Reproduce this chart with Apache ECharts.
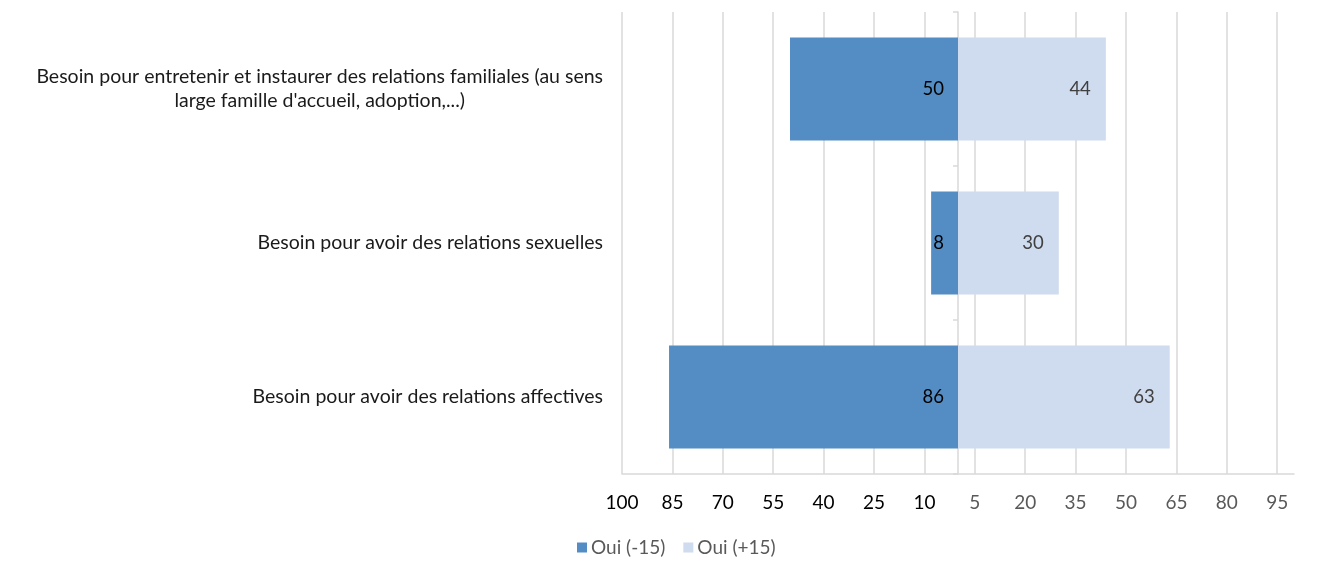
<!DOCTYPE html>
<html>
<head>
<meta charset="utf-8">
<script src="https://cdn.jsdelivr.net/npm/echarts@6/dist/echarts.min.js"></script>
<style>
  html, body { margin: 0; padding: 0; background: #ffffff; }
  #chart { width: 1320px; height: 563px; }
</style>
</head>
<body>
<div id="chart"></div>
<script>
// Categories, listed bottom to top as the category axis draws them
const categories = [
  'Besoin pour avoir des relations affectives',
  'Besoin pour avoir des relations sexuelles',
  "Besoin pour entretenir et instaurer des relations familiales (au sens\nlarge famille d'accueil, adoption,...)"
];
const seriesNames = ['Oui (-15)', 'Oui (+15)'];
// Left side (drawn as negative values) and right side
const ouiMoins15 = [86, 8, 50];
const ouiPlus15 = [63, 30, 44];

const FONT = 'Lato, "Liberation Sans", sans-serif';
const DARK = '#548DC4';
const LIGHT = '#CFDBEE';
const GRID = '#D9D9D9';
const FS = 19.5;

const chart = echarts.init(document.getElementById('chart'), null, { renderer: 'canvas' });

chart.setOption({
  animation: false,
  textStyle: { fontFamily: FONT },
  grid: { left: 622, right: 26, top: 12, bottom: 89, containLabel: false },
  legend: {
    data: seriesNames,
    left: 572,
    bottom: 1,
    icon: 'rect',
    itemWidth: 10,
    itemHeight: 10,
    itemGap: 18,
    textStyle: { fontFamily: FONT, fontSize: 19, color: '#595959', padding: [0, 0, 0, -1] }
  },
  xAxis: {
    type: 'value',
    min: -100,
    max: 100,
    interval: 15,
    axisLine: { show: true, onZero: false, lineStyle: { color: GRID, width: 1.5 } },
    axisTick: { show: false },
    splitLine: { show: true, showMaxLine: false, lineStyle: { color: GRID, width: 1.5 } },
    axisLabel: {
      margin: 19,
      fontFamily: FONT,
      fontSize: 19,
      color: function (v) { return v < 0 ? '#000000' : '#595959'; },
      formatter: function (v) { return v >= 100 ? '' : String(Math.abs(v)); },
      showMaxLabel: false
    }
  },
  yAxis: [
    {
      type: 'category',
      data: categories,
      position: 'left',
      axisLine: { show: false },
      axisTick: { show: false },
      axisLabel: {
        margin: 19,
        fontFamily: FONT,
        fontSize: FS,
        color: '#1a1a1a',
        lineHeight: 24,
        formatter: function (v) {
          return v.split('\n').map(function (l) { return '{c|' + l + '}'; }).join('\n');
        },
        rich: { c: { align: 'center', fontFamily: FONT, fontSize: FS, color: '#1a1a1a', lineHeight: 24 } }
      }
    },
    {
      // center divider with tick marks between the bands
      type: 'category',
      data: categories,
      position: 'left',
      offset: -336,
      axisLine: { show: true, onZero: false, lineStyle: { color: GRID, width: 1.5 } },
      axisTick: { show: true, length: 5, lineStyle: { color: GRID, width: 1.5 } },
      axisLabel: { show: false }
    }
  ],
  series: [
    {
      name: seriesNames[0],
      type: 'bar',
      stack: 'total',
      yAxisIndex: 0,
      barWidth: '67%',
      itemStyle: { color: DARK },
      data: ouiMoins15.map(function (v) { return -v; }),
      label: {
        show: true,
        position: 'insideRight',
        distance: 14,
        fontFamily: FONT,
        fontSize: 18.5,
        color: '#000000',
        formatter: function (p) { return String(Math.abs(p.value)); }
      }
    },
    {
      name: seriesNames[1],
      type: 'bar',
      stack: 'total',
      yAxisIndex: 0,
      barWidth: '67%',
      itemStyle: { color: LIGHT },
      data: ouiPlus15,
      label: {
        show: true,
        position: 'insideRight',
        distance: 15,
        fontFamily: FONT,
        fontSize: 18.5,
        color: '#404040',
        formatter: function (p) { return String(p.value); }
      }
    }
  ]
});
</script>
</body>
</html>
